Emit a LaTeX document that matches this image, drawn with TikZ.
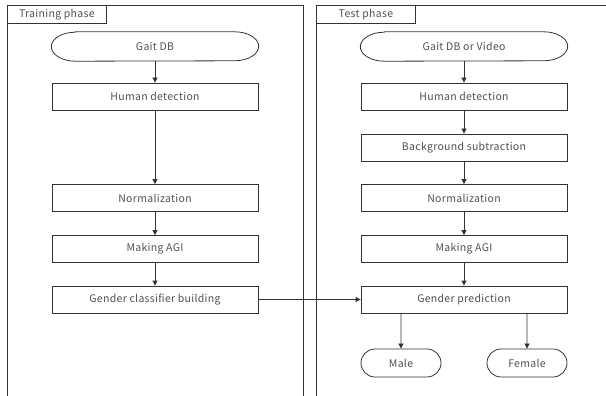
\documentclass[tikz,border=0pt]{standalone}
\usepackage{fontspec}
\setmainfont{Noto Sans CJK JP}[LetterSpace=3]
\usetikzlibrary{arrows.meta,shapes.misc}
\definecolor{txt}{HTML}{505050}
\definecolor{ln}{HTML}{333333}
\begin{document}
\begin{tikzpicture}[x=1pt,y=-1pt,
  every node/.style={font=\fontsize{10.5}{12}\selectfont, text=txt},
  procbox/.style={draw=ln, line width=0.8pt, minimum width=206pt, minimum height=27pt, inner sep=0pt},
  termbox/.style={minimum width=207pt, minimum height=29pt, inner sep=0pt},
  smallterm/.style={draw=ln, line width=0.8pt, rounded rectangle, minimum width=80pt, minimum height=28pt, inner sep=0pt},
  tab/.style={draw=ln, line width=0.8pt, minimum width=99pt, minimum height=18pt, inner sep=0pt, anchor=north west},
  outline/.style={draw=ln, line width=0.8pt},
  flow/.style={draw=ln, line width=0.8pt, -{Triangle[length=5pt,width=5pt]}}]
\useasboundingbox (0,0) rectangle (606,396);
% frames
\draw[outline] (7,400) -- (7,5) -- (303,5) -- (303,400);
\draw[outline] (316,400) -- (316,5) -- (612,5);
\node[tab] (ttab) at (7,5) {Training phase};
\node[tab] (stab) at (316,5) {Test phase};
% training column
\node[termbox] (tdb) at (155,46.5) {Gait DB};
\node[procbox] (thd) at (155,96.5) {Human detection};
\node[procbox] (tnorm) at (155,198) {Normalization};
\node[procbox] (tagi) at (155,249) {Making AGI};
\node[procbox] (tgcb) at (155,299.5) {Gender classifier building};
% test column
\node[termbox] (sdb) at (464,46.5) {Gait DB or Video};
\node[procbox] (shd) at (464,96.5) {Human detection};
\node[procbox] (sbg) at (464,147.5) {Background subtraction};
\node[procbox] (snorm) at (464,198) {Normalization};
\node[procbox] (sagi) at (464,249) {Making AGI};
\node[procbox] (sgp) at (464,299.5) {Gender prediction};
\node[smallterm] (male) at (401,363) {Male};
\node[smallterm] (female) at (527,363) {Female};
% terminal outlines with elliptical ends
\foreach \n in {tdb,sdb}{
  \draw[outline] ([xshift=24pt]\n.north west) -- ([xshift=-24pt]\n.north east)
    arc[start angle=90, end angle=-90, x radius=24pt, y radius=14.5pt]
    -- ([xshift=24pt]\n.south west)
    arc[start angle=270, end angle=90, x radius=24pt, y radius=14.5pt] -- cycle;
}
% connectors
\draw[flow] (tdb) -- (thd);
\draw[flow] (thd) -- (tnorm);
\draw[flow] (tnorm) -- (tagi);
\draw[flow] (tagi) -- (tgcb);
\draw[flow] (sdb) -- (shd);
\draw[flow] (shd) -- (sbg);
\draw[flow] (sbg) -- (snorm);
\draw[flow] (snorm) -- (sagi);
\draw[flow] (sagi) -- (sgp);
\draw[flow] (tgcb) -- (sgp);
\draw[flow] (sgp.south -| male) -- (male);
\draw[flow] (sgp.south -| female) -- (female);
\end{tikzpicture}
\end{document}
